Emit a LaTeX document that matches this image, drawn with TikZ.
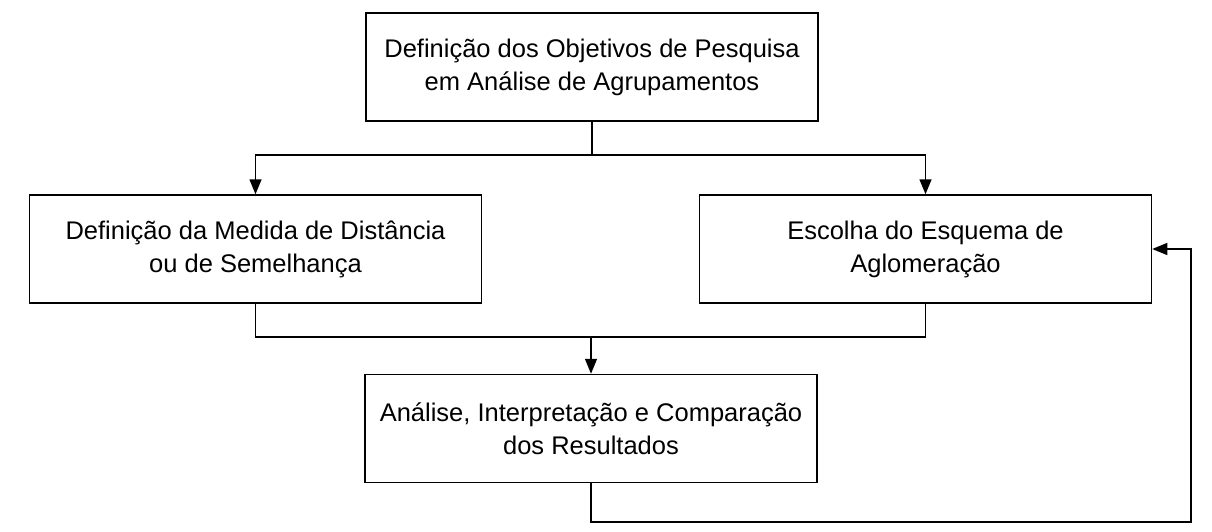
\documentclass[tikz,border=0pt]{standalone}
\usepackage{fontspec}
\setmainfont{Liberation Sans}
\usepackage{tikz}
\usetikzlibrary{arrows.meta, positioning}

\begin{document}
\begin{tikzpicture}[
      x=1pt, y=-1pt,
      stagebox/.style={draw, line width=1.5pt, minimum width=452pt,
        minimum height=108pt, align=center, inner sep=0pt,
        font=\fontsize{25.5}{33}\selectfont},
      link/.style={line width=1.5pt},
      arr/.style={link, -{Triangle[length=15pt, width=12pt]}}
    ]
    \useasboundingbox (0,0) rectangle (1212,532);
    % boxes
    \node[stagebox] (objetivos) at (592, 67)
         {Definição dos Objetivos de Pesquisa\\em Análise de Agrupamentos};
    \node[stagebox] (medida) at (255.5, 249)
         {Definição da Medida de Distância\\ou de Semelhança};
    \node[stagebox] (esquema) at (925.5, 249)
         {Escolha do Esquema de\\Aglomeração};
    \node[stagebox] (analise) at (591, 428.5)
         {Análise, Interpretação e Comparação\\dos Resultados};
    % connectors
    \coordinate (split) at (592, 155);
    \coordinate (join) at (591, 337);
    \coordinate (loop) at (1191, 522);
    \draw[link] (objetivos.south) -- (split);
    \draw[arr] (split) -| (medida.north);
    \draw[arr] (split) -| (esquema.north);
    \draw[link] (medida.south) |- (join) -| (esquema.south);
    \draw[arr] (join) -- (analise.north);
    \draw[arr] (analise.south) |- (loop) |- (esquema.east);
  \end{tikzpicture}
\end{document}
